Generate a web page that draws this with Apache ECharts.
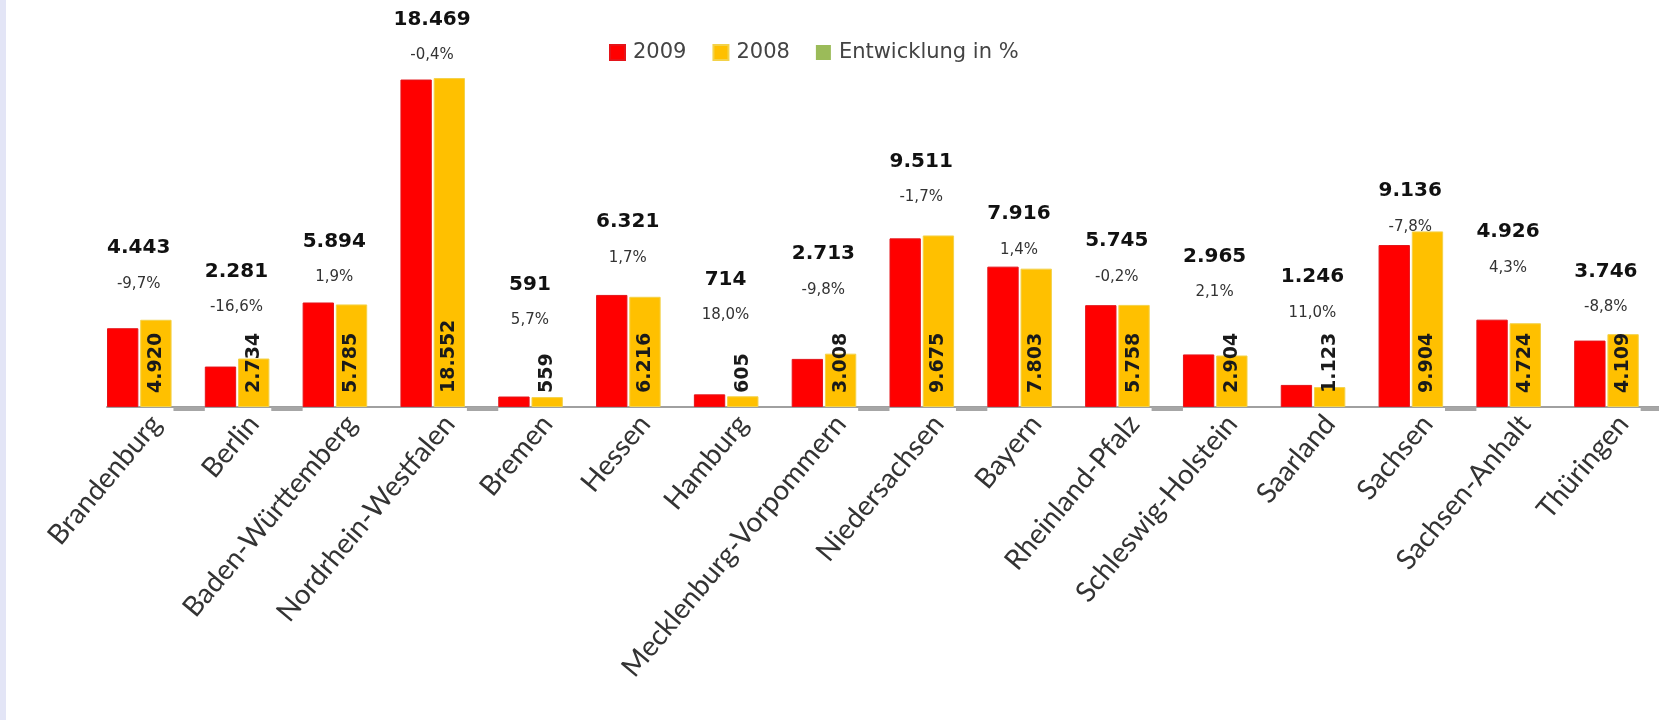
<!DOCTYPE html>
<html lang="de">
<head>
<meta charset="UTF-8">
<title>Bundesländer 2009 / 2008</title>
<script src="https://cdn.jsdelivr.net/npm/echarts@6/dist/echarts.min.js"></script>
<style>
  html, body {
    margin: 0;
    padding: 0;
    width: 100%;
    height: 100%;
    background: linear-gradient(to right, #e3e5f6 0, #e3e5f6 6px, #fff 6px);
  }
  #chart {
    width: 1659px;
    height: 720px;
  }
</style>
</head>
<body>
<div id="chart"></div>
<script>
  // Bundesländer
  const laender = ['Brandenburg', 'Berlin', 'Baden-Württemberg', 'Nordrhein-Westfalen', 'Bremen', 'Hessen',
    'Hamburg', 'Mecklenburg-Vorpommern', 'Niedersachsen', 'Bayern', 'Rheinland-Pfalz', 'Schleswig-Holstein',
    'Saarland', 'Sachsen', 'Sachsen-Anhalt', 'Thüringen']
  const werte2009 = [4443, 2281, 5894, 18469, 591, 6321, 714, 2713, 9511, 7916, 5745, 2965, 1246, 9136, 4926, 3746]
  const werte2008 = [4920, 2734, 5785, 18552, 559, 6216, 605, 3008, 9675, 7803, 5758, 2904, 1123, 9904, 4724, 4109]
  const entwicklung = [-9.7, -16.6, 1.9, -0.4, 5.7, 1.7, 18.0, -9.8, -1.7, 1.4, -0.2, 2.1, 11.0, -7.8, 4.3, -8.8]

  // wie weit die Beschriftung über dem roten Balken steht (px), von Hand wie im Original verschoben
  const labelLift = [44, 59, 25, 24, 76, 37, 79, 69, 41, 17, 28, 62, 72, 18, 52, 33]

  const tausend = v => String(v).replace(/\B(?=(\d{3})+(?!\d))/g, '.')
  const prozent = v => v.toFixed(1).replace('.', ',') + '%'

  const chart = echarts.init(document.getElementById('chart'), null, { renderer: 'canvas' })

  chart.setOption({
    backgroundColor: 'transparent',
    animation: false,
    legend: {
      left: 604,
      top: 37,
      itemWidth: 15,
      itemHeight: 15,
      itemGap: 26,
      icon: 'rect',
      textStyle: { fontFamily: 'DejaVu Sans', fontSize: 21, color: '#444', padding: [0, 0, 0, 3] },
      data: ['2009', '2008', { name: 'Entwicklung in %', itemStyle: { color: '#9bbb59' } }]
    },
    grid: {
      left: 107,
      top: 52.4,
      width: 1565,
      bottom: 313,
      containLabel: false,
      outerBoundsMode: 'none'
    },
    xAxis: {
      type: 'category',
      data: laender,
      axisTick: { show: false },
      axisLine: { lineStyle: { color: '#a0a0a0', width: 2 } },
      axisLabel: {
        interval: 0,
        rotate: 50,
        margin: 12,
        fontFamily: 'Lato',
        fontSize: 28,
        color: '#333'
      }
    },
    yAxis: {
      type: 'value',
      min: 0,
      max: 20000,
      show: false,
      splitLine: { show: false }
    },
    series: [
      {
        name: '2009',
        type: 'bar',
        barGap: '6%',
        barCategoryGap: 0,
        itemStyle: { color: '#ff0000', borderColor: '#e4141a', borderWidth: 1 },
        data: werte2009.map((v, i) => ({
          value: v,
          label: { offset: [16, 18 - labelLift[i]] }
        })),
        label: {
          show: true,
          position: 'top',
          distance: 0,
          formatter: p => '{v|' + tausend(p.value) + '}\n{p|' + prozent(entwicklung[p.dataIndex]) + '}',
          rich: {
            v: { fontFamily: 'DejaVu Sans', fontWeight: 'bold', fontSize: 20, color: '#111', lineHeight: 36, align: 'center' },
            p: { fontFamily: 'DejaVu Sans', fontSize: 15, color: '#333', lineHeight: 36, align: 'center' }
          }
        }
      },
      {
        name: '2008',
        type: 'bar',
        barGap: '6%',
        barCategoryGap: 0,
        itemStyle: { color: '#ffc000', borderColor: '#f3d24a', borderWidth: 1 },
        data: werte2008,
        label: {
          show: true,
          position: 'insideBottom',
          distance: 14,
          rotate: 90,
          align: 'left',
          verticalAlign: 'middle',
          fontFamily: 'DejaVu Sans',
          fontWeight: 'bold',
          fontSize: 19,
          color: '#1a1a1a',
          formatter: p => tausend(p.value)
        }
      },
      {
        name: 'Entwicklung in %',
        type: 'bar',
        barGap: '6%',
        barCategoryGap: 0,
        barMinHeight: 4,
        clip: false,
        silent: true,
        itemStyle: {
          color: p => (p.value < 0 ? '#a6a6a6' : 'rgba(0,0,0,0)')
        },
        data: entwicklung
      }
    ]
  })

  window.addEventListener('resize', () => chart.resize())
</script>
</body>
</html>
